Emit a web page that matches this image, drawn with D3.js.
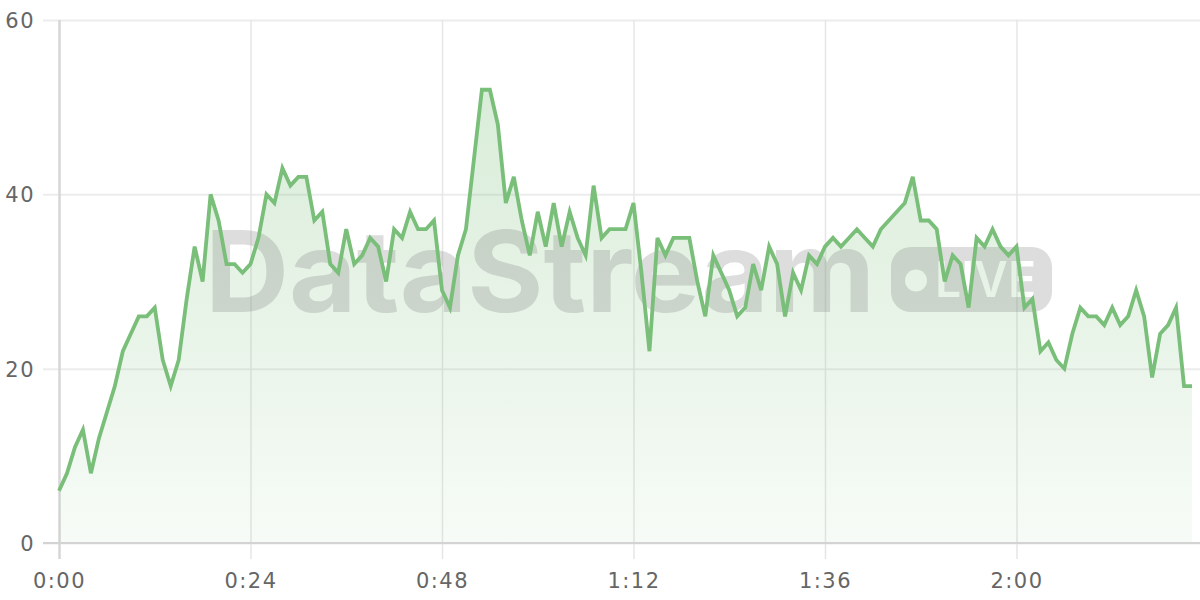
<!DOCTYPE html>
<html>
<head>
<meta charset="utf-8">
<script src="https://cdn.jsdelivr.net/npm/d3@7/dist/d3.min.js"></script>
<style>
  html, body { margin: 0; padding: 0; background: #ffffff; }
  svg { display: block; }
</style>
</head>
<body>
<svg id="chart" width="1200" height="600"></svg>
<script>
// ---- data (one value per minute) ----
const values = [
  6, 8, 11, 13, 8, 12, 15, 18, 22, 24,
  26, 26, 27, 21, 18, 21, 28, 34, 30, 40,
  37, 32, 32, 31, 32, 35, 40, 39, 43, 41,
  42, 42, 37, 38, 32, 31, 36, 32, 33, 35,
  34, 30, 36, 35, 38, 36, 36, 37, 29, 27,
  33, 36, 44, 52, 52, 48, 39, 42, 37, 33,
  38, 34, 39, 34, 38, 35, 33, 41, 35, 36,
  36, 36, 39, 31, 22, 35, 33, 35, 35, 35,
  30, 26, 33, 31, 29, 26, 27, 32, 29, 34,
  32, 26, 31, 29, 33, 32, 34, 35, 34, 35,
  36, 35, 34, 36, 37, 38, 39, 42, 37, 37,
  36, 30, 33, 32, 27, 35, 34, 36, 34, 33,
  34, 27, 28, 22, 23, 21, 20, 24, 27, 26,
  26, 25, 27, 25, 26, 29, 26, 19, 24, 25,
  27, 18, 18
];
const minutes = values.map((v, i) => i);
const xTicks = [0, 24, 48, 72, 96, 120];
const yTicks = [0, 20, 40, 60];
const xMax = 143;
const yMax = 60;
const watermarkText = "DataStream";
const badgeText = "LIVE";

// ---- layout ----
const W = 1200, H = 600;
const mLeft = 59, mRight = 1200, mTop = 20, mBottom = 543;
const tickLen = 16;
const lineColor = "#79be79";

const svg = d3.select("#chart");
const x = d3.scaleLinear().domain([0, xMax]).range([mLeft, mRight]);
const y = d3.scaleLinear().domain([0, yMax]).range([mBottom, mTop]);

const fmt = m => `${Math.floor(m / 60)}:${String(m % 60).padStart(2, "0")}`;

// gradient
const defs = svg.append("defs");
const grad = defs.append("linearGradient")
  .attr("id", "fillGrad")
  .attr("gradientUnits", "userSpaceOnUse")
  .attr("x1", 0).attr("x2", 0).attr("y1", mTop).attr("y2", mBottom);
grad.append("stop").attr("offset", "0%").attr("stop-color", lineColor).attr("stop-opacity", 0.32);
grad.append("stop").attr("offset", "100%").attr("stop-color", lineColor).attr("stop-opacity", 0.06);

// ---- horizontal grid + y labels ----
const yAxis = svg.append("g")
  .attr("transform", `translate(${mLeft},0)`)
  .call(d3.axisLeft(y).tickValues(yTicks).tickSizeOuter(0).tickFormat(d3.format("d")));
yAxis.select(".domain").remove();
yAxis.selectAll(".tick line")
  .attr("x1", -tickLen).attr("x2", mRight - mLeft)
  .attr("stroke", "#ececec").attr("stroke-width", 2);
yAxis.selectAll(".tick text")
  .attr("x", -24)
  .attr("dy", "0.35em")
  .attr("fill", "#666")
  .style("font-family", "'DejaVu Sans', sans-serif")
  .style("font-size", "21px")
  .style("letter-spacing", "1.5px");

// ---- vertical grid + x labels ----
const xAxis = svg.append("g")
  .attr("transform", `translate(0,${mBottom})`)
  .call(d3.axisBottom(x).tickValues(xTicks).tickSizeOuter(0).tickFormat(fmt));
xAxis.select(".domain").remove();
xAxis.selectAll(".tick line")
  .attr("y1", mTop - mBottom).attr("y2", tickLen)
  .attr("stroke", d => d === 0 ? "#d6d6d6" : "#e6e6e6")
  .attr("stroke-width", d => d === 0 ? 2.5 : 1.5);
xAxis.selectAll(".tick text")
  .attr("y", 38)
  .attr("dy", "0.35em")
  .attr("fill", "#666")
  .style("font-family", "'DejaVu Sans', sans-serif")
  .style("font-size", "21px")
  .style("letter-spacing", "1.5px");

// ---- area ----
const area = d3.area()
  .x((d, i) => x(minutes[i]))
  .y0(y(0))
  .y1(d => y(d))
  .curve(d3.curveLinear);
svg.append("path")
  .datum(values)
  .attr("d", area)
  .attr("fill", "url(#fillGrad)");

// ---- watermark ----
const mask = defs.append("mask").attr("id", "badgeMask")
  .attr("maskUnits", "userSpaceOnUse")
  .attr("x", 0).attr("y", 0).attr("width", W).attr("height", H);
mask.append("rect").attr("x", 0).attr("y", 0).attr("width", W).attr("height", H).attr("fill", "#fff");
mask.append("circle").attr("cx", 916).attr("cy", 280.5).attr("r", 11).attr("fill", "#000");
mask.append("text")
  .attr("x", 935).attr("y", 297)
  .attr("textLength", 101).attr("lengthAdjust", "spacingAndGlyphs")
  .style("font-family", "Inter, 'Liberation Sans', sans-serif")
  .style("font-weight", 600)
  .style("font-size", "49px")
  .attr("fill", "#000")
  .text(badgeText);

const wm = svg.append("g").attr("fill", "rgba(128,128,128,0.27)");
wm.append("text")
  .attr("x", 205).attr("y", 312)
  .attr("textLength", 670).attr("lengthAdjust", "spacingAndGlyphs")
  .style("font-family", "Inter, 'Liberation Sans', sans-serif")
  .style("font-weight", 700)
  .style("font-size", "113px")
  .text(watermarkText);
wm.append("rect")
  .attr("x", 891).attr("y", 247).attr("width", 161).attr("height", 65)
  .attr("rx", 20).attr("ry", 20)
  .attr("mask", "url(#badgeMask)");

// ---- line ----
const line = d3.line()
  .x((d, i) => x(minutes[i]))
  .y(d => y(d))
  .curve(d3.curveLinear);
svg.append("path")
  .datum(values)
  .attr("d", line)
  .attr("fill", "none")
  .attr("stroke", lineColor)
  .attr("stroke-width", 3.8)
  .attr("stroke-linejoin", "miter")
  .attr("stroke-miterlimit", 4);

// ---- x axis baseline ----
svg.append("line")
  .attr("x1", mLeft - tickLen).attr("x2", mRight)
  .attr("y1", y(0)).attr("y2", y(0))
  .attr("stroke", "#d3d3d3").attr("stroke-width", 2);
</script>
</body>
</html>
